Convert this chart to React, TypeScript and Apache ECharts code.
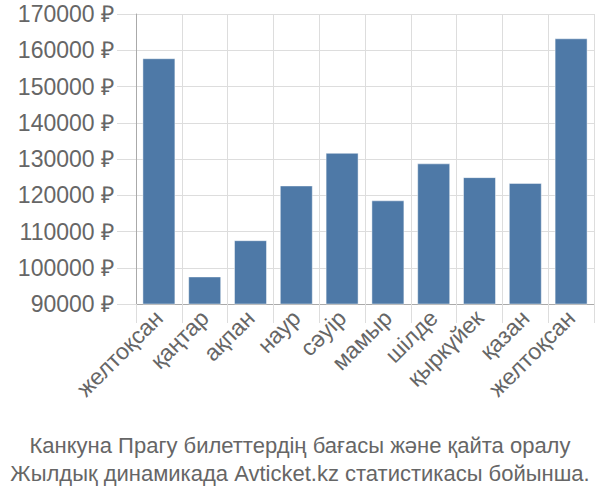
import React, { useEffect, useRef } from "react";
import * as echarts from "echarts";

const categories = ["желтоқсан", "қаңтар", "ақпан", "наур", "сәуір", "мамыр", "шілде", "қыркүйек", "қазан", "желтоқсан"];
const prices = [157800, 97600, 107600, 122700, 131700, 118600, 128800, 125000, 123400, 163300];
const titleLines = ["Канкуна Прагу билеттердің бағасы және қайта оралу", "Жылдық динамикада Avticket.kz статистикасы бойынша."];

export default function App() {
  const ref = useRef<HTMLDivElement>(null);
  useEffect(() => {
    document.body.style.margin = "0";
    const chart = echarts.init(ref.current!, null, { renderer: "svg" });
    const font = "'Liberation Sans', Arial, sans-serif";
    chart.setOption({
      animation: false,
      title: {
        text: titleLines.join("\n"),
        left: "center",
        bottom: 8,
        textStyle: { fontFamily: font, fontSize: 22, fontWeight: "normal", color: "#666", lineHeight: 28 },
      },
      grid: { left: 136, right: 6, top: 14, bottom: 196 },
      xAxis: {
        type: "category",
        data: categories,
        axisLine: { show: true, lineStyle: { color: "#aaa" } },
        axisTick: { show: true, length: 19, lineStyle: { color: "#ddd" } },
        splitLine: { show: true, lineStyle: { color: "#ddd" } },
        axisLabel: { rotate: 45, fontFamily: font, fontSize: 23, color: "#666", margin: 10, interval: 0 },
      },
      yAxis: {
        type: "value",
        min: 90000,
        max: 170000,
        interval: 10000,
        axisLine: { show: true, lineStyle: { color: "#aaa" } },
        axisTick: { show: true, length: 19, lineStyle: { color: "#ddd" } },
        splitLine: { show: true, lineStyle: { color: "#ddd" } },
        axisLabel: { fontFamily: font, fontSize: 23, color: "#666", margin: 22, formatter: (v: number) => `${v} ₽` },
      },
      series: [
        {
          type: "bar",
          data: prices,
          barCategoryGap: "28%",
          itemStyle: { color: "#4e79a7", borderColor: "rgba(255,255,255,0.45)", borderWidth: 1 },
        },
      ],
    });
    return () => chart.dispose();
  }, []);
  return <div ref={ref} style={{ width: 600, height: 500 }} />;
}
